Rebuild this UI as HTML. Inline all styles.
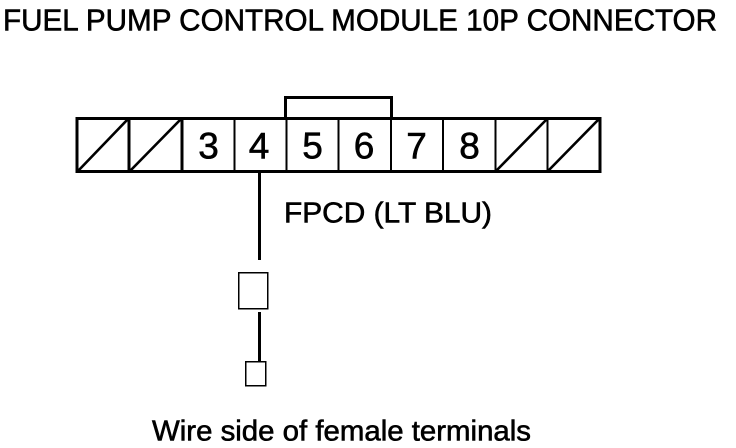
<!DOCTYPE html>
<html><head><meta charset="utf-8"><style>
html,body{margin:0;padding:0;background:#fff}
svg{display:block}
text{font-family:"Liberation Sans",sans-serif;fill:#000;stroke:#000;stroke-width:.6px}
</style></head><body>
<svg width="736" height="448" viewBox="0 0 736 448" xmlns="http://www.w3.org/2000/svg">
<rect width="736" height="448" fill="#fff"/>
<text x="3" y="30.5" font-size="31" textLength="714" lengthAdjust="spacingAndGlyphs">FUEL PUMP CONTROL MODULE 10P CONNECTOR</text>
<g stroke="#000" fill="none" shape-rendering="crispEdges">
<rect x="77" y="118.5" width="523" height="53" stroke-width="3"/>
<path d="M285.5 118V97.5H391.5V118" stroke-width="3"/>
<path d="M129 118V172M182 118V172" stroke-width="3"/>
<path d="M234.5 118V172M286.5 118V172M338.5 118V172M391 118V172M443 118V172M495.5 118V172M547.5 118V172" stroke-width="2"/>
<path d="M259.5 172V260M259.5 312V361" stroke-width="3"/>
<rect x="238.5" y="272.5" width="29" height="36" stroke-width="1.5"/>
<rect x="245.5" y="361.5" width="20" height="24" stroke-width="1.5"/>
</g>
<g stroke="#000" fill="none" stroke-width="2.6">
<path d="M78 171L128 119M130 171L181 119M496 171L547 119M548 171L599 119"/>
</g>
<g font-size="37" text-anchor="middle">
<text x="208.5" y="158.5">3</text>
<text x="259" y="158.5">4</text>
<text x="312.5" y="158.5">5</text>
<text x="364" y="158.5">6</text>
<text x="416.5" y="158.5">7</text>
<text x="469.5" y="158.5">8</text>
</g>
<text x="284" y="222.5" font-size="29" textLength="208" lengthAdjust="spacingAndGlyphs">FPCD (LT BLU)</text>
<text x="152" y="440.5" font-size="29" textLength="379" lengthAdjust="spacingAndGlyphs">Wire side of female terminals</text>
</svg>
</body></html>
